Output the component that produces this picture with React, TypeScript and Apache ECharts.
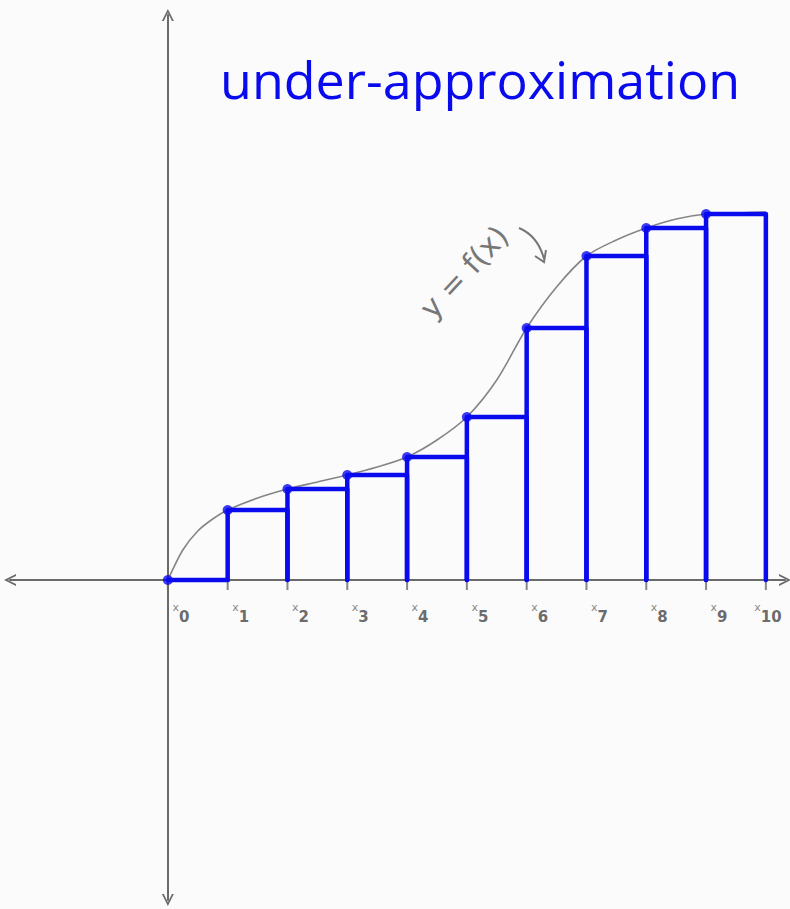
import React, { useEffect, useRef } from "react";
import * as echarts from "echarts";

// Partition points x0..x10
const xTicks = [0, 1, 2, 3, 4, 5, 6, 7, 8, 9, 10];
const tickLabels = ["0", "1", "2", "3", "4", "5", "6", "7", "8", "9", "10"];
// f(x_i) at left endpoints (rectangle heights), i = 0..9
const leftHeights = [0, 70, 91, 105, 123, 163, 252, 324, 352, 366];
// sampled curve y = f(x)
const curveX = [0, 0.25, 0.5, 0.75, 1, 1.5, 2, 2.5, 3, 3.5, 4, 4.5, 5, 5.5, 6, 6.5, 7, 7.5, 8, 8.5, 9, 9.5, 10];
const curveY = [0, 30, 49, 61, 70, 82, 91, 98, 105, 113, 123, 140, 163, 200, 252, 293, 324, 340, 352, 361, 366, 367, 368];

const titleText = "under-approximation";
const curveLabel = "y = f(x)";

const BLUE = "#0a0aee";
const GREY = "#6a6a6a";

export default function App() {
  const ref = useRef<HTMLDivElement>(null);
  useEffect(() => {
    if (!ref.current) return;
    const chart = echarts.init(ref.current, undefined, { renderer: "svg" });
    const chevron = "path://M0,10 L5,0 L10,10 L8.4,10 L5,3.2 L1.6,10 Z";
    const rects = leftHeights.map((h, i) => [xTicks[i], h, xTicks[i + 1]]);
    chart.setOption({
      animation: false,
      backgroundColor: "#fbfbfb",
      title: {
        text: titleText,
        left: 215,
        top: 47,
        textStyle: {
          fontFamily: "Open Sans",
          fontSize: 52,
          fontWeight: "normal",
          color: BLUE,
        },
      },
      grid: { left: 10, right: 5, top: 15, bottom: 9, containLabel: false },
      xAxis: {
        type: "value",
        min: -2.64,
        max: 10.32,
        axisLine: {
          onZero: true,
          symbol: [chevron, chevron],
          symbolSize: [13, 12],
          lineStyle: { color: GREY, width: 2 },
        },
        axisTick: { show: false },
        axisLabel: { show: false },
        splitLine: { show: false },
      },
      yAxis: {
        type: "value",
        min: -320,
        max: 565,
        axisLine: {
          onZero: true,
          symbol: [chevron, chevron],
          symbolSize: [13, 12],
          lineStyle: { color: GREY, width: 2 },
        },
        axisTick: { show: false },
        axisLabel: { show: false },
        splitLine: { show: false },
      },
      graphic: [
        {
          type: "text",
          x: 464,
          y: 272,
          rotation: (47 * Math.PI) / 180,
          style: {
            text: curveLabel,
            fontFamily: "DejaVu Sans",
            fontSize: 30,
            fill: "#777",
            align: "center",
            verticalAlign: "middle",
          },
        },
        {
          type: "bezierCurve",
          shape: { x1: 519, y1: 228, x2: 544, y2: 259, cpx1: 538, cpy1: 236 },
          style: { stroke: "#777", lineWidth: 2, fill: "none" },
        },
        {
          type: "polyline",
          shape: { points: [[535, 256], [544, 262], [546, 250]] },
          style: { stroke: "#777", lineWidth: 2, fill: "none" },
        },
      ],
      series: [
        {
          type: "line",
          data: curveX.map((x, i) => [x, curveY[i]]),
          smooth: 0.3,
          showSymbol: false,
          lineStyle: { color: "#858585", width: 1.6 },
          z: 2,
        },
        {
          type: "scatter",
          data: xTicks.map((x, i) =>
            i === xTicks.length - 1
              ? { value: [x, 0], label: { offset: [2, 30] } }
              : { value: [x, 0] }
          ),
          symbol: "rect",
          symbolSize: [2, 14],
          symbolOffset: [0, 3],
          itemStyle: { color: GREY },
          label: {
            show: true,
            position: "inside",
            offset: [13, 30],
            formatter: (p: any) => `{x|x}{n|${tickLabels[p.dataIndex]}}`,
            rich: {
              x: { fontSize: 11, color: "#666", verticalAlign: "top", fontFamily: "DejaVu Sans", padding: [0, 0, 8, 0] },
              n: { fontSize: 15, color: "#444", fontWeight: "bold", fontFamily: "DejaVu Sans", padding: [8, 0, 0, 0] },
            },
          },
          z: 3,
        },
        {
          type: "custom",
          data: rects,
          renderItem: (params: any, api: any) => {
            const x0 = api.value(0);
            const h = api.value(1);
            const x1 = api.value(2);
            const p1 = api.coord([x0, 0]);
            const p2 = api.coord([x0, h]);
            const p3 = api.coord([x1, h]);
            const p4 = api.coord([x1, 0]);
            return {
              type: "polyline",
              shape: { points: [p1, p2, p3, p4] },
              style: { stroke: BLUE, lineWidth: 4.5, fill: "none", lineJoin: "round", lineCap: "round" },
            };
          },
          z: 4,
        },
        {
          type: "scatter",
          data: leftHeights.map((h, i) => [xTicks[i], h]),
          symbol: "circle",
          symbolSize: 10,
          itemStyle: { color: BLUE },
          z: 5,
        },
      ],
    });
    return () => chart.dispose();
  }, []);
  return (
    <div
      ref={ref}
      style={{ position: "absolute", left: 0, top: 0, width: 790, height: 909 }}
    />
  );
}
